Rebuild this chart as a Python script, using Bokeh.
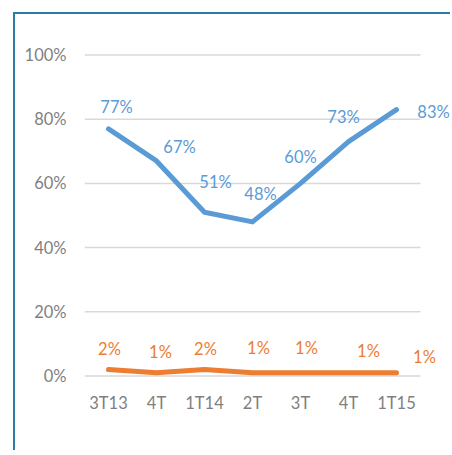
from bokeh.plotting import figure
from bokeh.models import ColumnDataSource, LabelSet, FixedTicker, Range1d
from bokeh.core.properties import value
from bokeh.embed import file_html
from bokeh.resources import INLINE

# ---- data ----
quarters = ["3T13", "4T", "1T14", "2T", "3T", "4T", "1T15"]
series_blue = [77, 67, 51, 48, 60, 73, 83]
series_orange = [2, 1, 2, 1, 1, 1, 1]
y_ticks = [0, 20, 40, 60, 80, 100]
y_tick_labels = ["0%", "20%", "40%", "60%", "80%", "100%"]

# label placement offsets (screen px, styling only)
blue_dx = [8, 23, 11, 8, 0, -5, 37]
blue_dy = [22, 14, 30, 28, 26, 25, -2]
orange_dx = [1, 4, 1, 6, 6, 20, 28]
orange_dy = [21, 21, 21, 25, 25, 22, 16]

FONT = "Lato"
BLUE = "#5B9BD5"
ORANGE = "#ED7D31"
GREY = "#7f7f7f"
FS = "16.5px"

n = len(quarters)
xs = list(range(n))

p = figure(x_range=Range1d(-0.5, -0.5 + 368 / 48), y_range=Range1d(-2.02, 102.02),
           width=437, height=438, output_backend="svg", toolbar_location=None,
           min_border_left=69, min_border_right=0, min_border_top=34, min_border_bottom=70)
p.styles = {"margin-left": "13px", "margin-top": "12px",
            "border-left": "2px solid #2a7da0", "border-top": "2px solid #2a7da0"}
p.outline_line_color = None
p.background_fill_color = "white"
p.border_fill_color = "white"

p.xgrid.grid_line_color = None
p.ygrid.grid_line_color = None
p.xaxis.ticker = FixedTicker(ticks=xs)
p.xaxis.major_label_overrides = {i: q for i, q in zip(xs, quarters)}
p.yaxis.ticker = FixedTicker(ticks=y_ticks)
p.yaxis.major_label_overrides = {t: l for t, l in zip(y_ticks, y_tick_labels)}

for ax in (p.xaxis, p.yaxis):
    ax.axis_line_color = None
    ax.major_tick_line_color = None
    ax.minor_tick_line_color = None
    ax.major_tick_out = 0
    ax.major_tick_in = 0
    ax.major_label_text_font = FONT
    ax.major_label_text_font_size = FS
    ax.major_label_text_color = GREY
p.yaxis.major_label_standoff = 18
p.xaxis.major_label_standoff = 10

# horizontal grid lines spanning the category band only
p.segment(x0=[xs[0] - 0.5] * len(y_ticks), x1=[xs[-1] + 0.5] * len(y_ticks),
          y0=y_ticks, y1=y_ticks, line_color="#d9d9d9", line_width=1.5)

src = ColumnDataSource(dict(
    x=xs, blue=series_blue, orange=series_orange,
    blue_txt=[f"{v}%" for v in series_blue],
    orange_txt=[f"{v}%" for v in series_orange],
    bdx=blue_dx, bdy=blue_dy, odx=orange_dx, ody=orange_dy,
))

p.line("x", "blue", source=src, line_color=BLUE, line_width=5,
       line_join="round", line_cap="round")
p.line("x", "orange", source=src, line_color=ORANGE, line_width=5,
       line_join="round", line_cap="round")

for col, txt, dx, dy, colr in (("blue", "blue_txt", "bdx", "bdy", BLUE),
                               ("orange", "orange_txt", "odx", "ody", ORANGE)):
    p.add_layout(LabelSet(x="x", y=col, text=txt, source=src,
                          x_offset=dx, y_offset=dy,
                          text_align="center", text_baseline="middle",
                          text_font=value(FONT), text_font_size=FS, text_color=colr))

open("out.html", "w").write(file_html(p, INLINE))
